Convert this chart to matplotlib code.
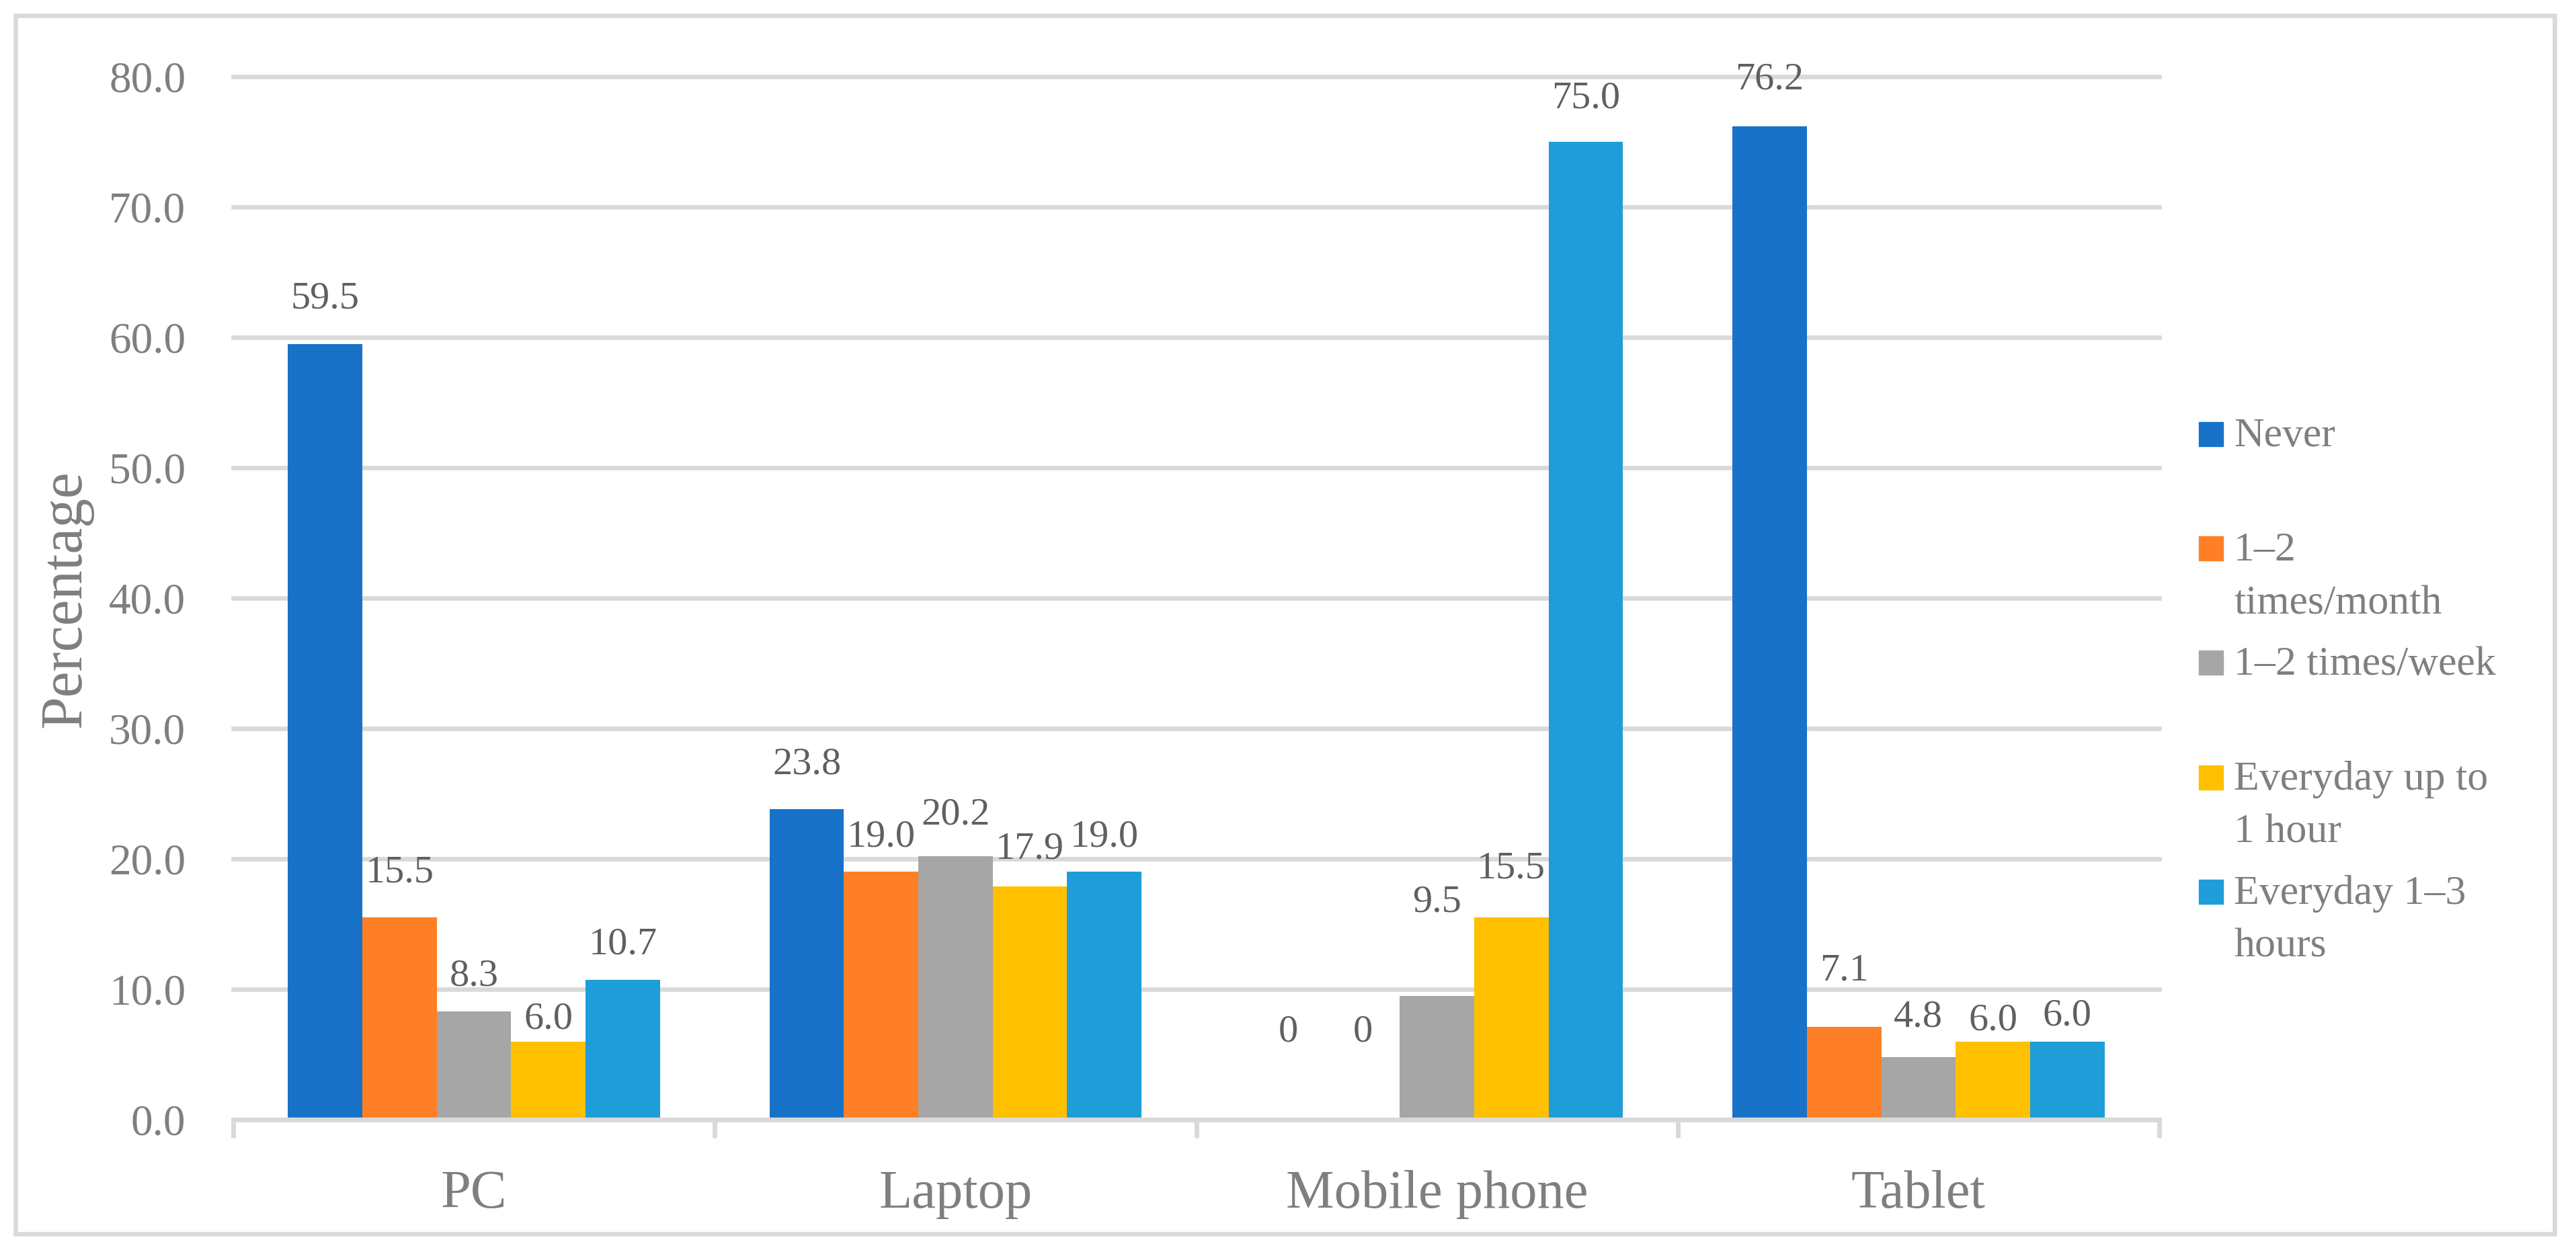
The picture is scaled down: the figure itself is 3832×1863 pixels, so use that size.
import matplotlib
matplotlib.use("Agg")
import matplotlib.pyplot as plt
from matplotlib.patches import Rectangle
from matplotlib.transforms import blended_transform_factory
import numpy as np

# ---- data ----
categories = ["PC", "Laptop", "Mobile phone", "Tablet"]
series_names = ["Never", "1\u20132\ntimes/month", "1\u20132 times/week",
                "Everyday up to\n1 hour", "Everyday 1\u20133\nhours"]
never = [59.5, 23.8, 0, 76.2]
month = [15.5, 19.0, 0, 7.1]
week = [8.3, 20.2, 9.5, 4.8]
upto1h = [6.0, 17.9, 15.5, 6.0]
h1to3 = [10.7, 19.0, 75.0, 6.0]
series_values = [never, month, week, upto1h, h1to3]
yticks = [0, 10, 20, 30, 40, 50, 60, 70, 80]

# ---- style ----
colors = ["#1872C8", "#FF7F27", "#A6A6A6", "#FFC000", "#1E9DD8"]
# vertical offset (points) of each data label above its bar, per series x category
label_offsets = [
    [38, 38, 84, 40],
    [38, 27, 84, 50],
    [28, 34, 90, 33],
    [14, 30, 42, 12],
    [28, 27, 36, 17],
]
GRID = "#D9D9D9"
TXT = "#7F7F7F"
LBL = "#606060"
FONT = "Liberation Serif"
plt.rcParams["font.family"] = [FONT, "DejaVu Serif"]

W, H, DPI = 3832, 1863, 100
fig = plt.figure(figsize=(W / DPI, H / DPI), dpi=DPI)
fig.patch.set_facecolor("white")

def fx(px):
    return px / W

def fy(py):
    return 1 - py / H

ax_left, ax_right, ax_top, ax_bot = 347, 3212, 114, 1666
ax = fig.add_axes([fx(ax_left), fy(ax_bot), fx(ax_right - ax_left), (ax_bot - ax_top) / H])

x = np.arange(len(categories))
bw = 0.1545
for j, (vals, col) in enumerate(zip(series_values, colors)):
    bars = ax.bar(x + (j - 2) * bw, vals, width=bw, color=col, zorder=3)
    for i, (rect, v) in enumerate(zip(bars, vals)):
        s = "0" if v == 0 else f"{v:.1f}"
        ax.annotate(s, (rect.get_x() + rect.get_width() / 2, rect.get_height()),
                    xytext=(0, label_offsets[j][i]), textcoords="offset points",
                    ha="center", va="baseline", fontsize=42, color=LBL, zorder=4)

ax.set_xlim(-0.5, len(categories) - 0.5)
ax.set_ylim(0, 80)
ax.set_yticks(yticks)
ax.set_yticklabels([f"{t:.1f}" for t in yticks])
ax.tick_params(axis="y", length=0, pad=51, labelsize=47, labelcolor=TXT)
ax.yaxis.grid(True, color=GRID, linewidth=4.8, zorder=0)
for gl in ax.get_ygridlines():
    gl.set_clip_on(False)
ax.set_axisbelow(True)

for s in ["left", "right", "top"]:
    ax.spines[s].set_visible(False)
ax.spines["bottom"].set_color(GRID)
ax.spines["bottom"].set_linewidth(5.2)
ax.spines["bottom"].set_zorder(5)

ax.set_xticks(x)
ax.set_xticklabels([])
ax.tick_params(axis="x", which="major", length=0)
ax.set_xticks(np.arange(-0.5, len(categories)), minor=True)
ax.tick_params(axis="x", which="minor", length=19.4, width=5, color=GRID, direction="out")

trans = blended_transform_factory(ax.transData, fig.transFigure)
for xi, c in zip(x, categories):
    ax.text(xi, fy(1797), c, transform=trans, ha="center", va="baseline",
            fontsize=58, color=TXT)

fig.text(fx(98), fy(891), "Percentage", rotation=90, ha="center", va="center",
         fontsize=63, color=TXT)

# legend
leg_y0, leg_dy = 646, 170.25
for k, (name, col) in enumerate(zip(series_names, colors)):
    cy = leg_y0 + k * leg_dy
    fig.patches.append(Rectangle((fx(3271), fy(cy + 18)), 36 / W, 36 / H,
                                 transform=fig.transFigure, color=col))
    for li, line in enumerate(name.split("\n")):
        fig.text(fx(3323), fy(cy + 18 + li * 79), line, ha="left", va="baseline",
                 fontsize=44.6, color=TXT)

# outer frame
fig.patches.append(Rectangle((fx(23), fy(1836)), (3800 - 23) / W, (1836 - 23) / H,
                             transform=fig.transFigure, fill=False, ec=GRID, lw=4.7))

fig.savefig("out.png", dpi=DPI, facecolor="white")
